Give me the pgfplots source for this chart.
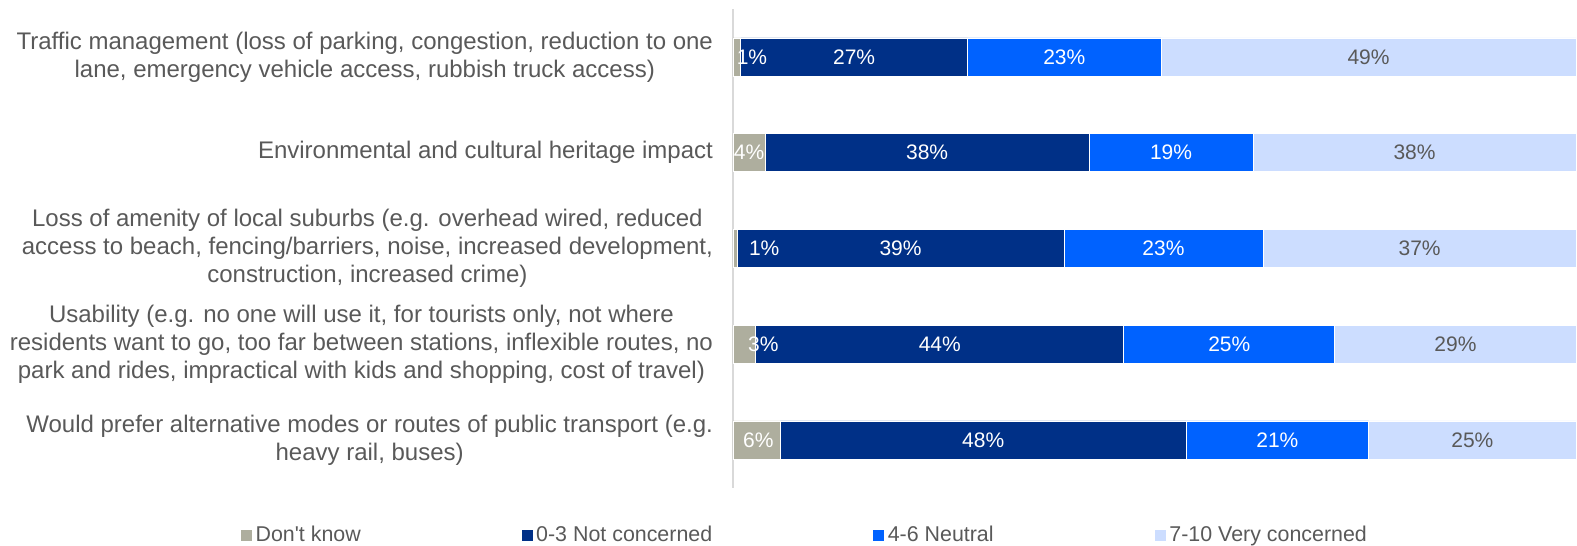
\documentclass[border=0pt]{standalone}
\usepackage{fontspec}
\setmainfont{Liberation Sans}
\usepackage{pgfplots}
\usepackage{pgfplotstable}
\pgfplotsset{compat=1.18}

\definecolor{dkc}{HTML}{AEAE9E}
\definecolor{ncc}{HTML}{003087}
\definecolor{nec}{HTML}{0062FF}
\definecolor{vcc}{HTML}{CCDDFF}
\definecolor{txt}{HTML}{595959}
\definecolor{axc}{HTML}{D9D9D9}

% row, segment width (%), printed label, label centre (dk only)
\pgfplotstableread{
row x lab lx
0 0.9 1 2.25
1 3.8 4 1.9
2 0.5 1 3.7
3 2.7 3 3.6
4 5.6 6 3.0
}\dk
\pgfplotstableread{
row x lab
0 26.9 27
1 38.4 38
2 38.7 39
3 43.6 44
4 48.1 48
}\nc
\pgfplotstableread{
row x lab
0 22.9 23
1 19.4 19
2 23.6 23
3 25.0 25
4 21.6 21
}\ne
\pgfplotstableread{
row x lab
0 49.2 49
1 38.3 38
2 37.1 37
3 28.6 29
4 24.6 25
}\vc

\begin{document}
\begin{tikzpicture}[font=\fontsize{10.5}{14}\selectfont]
\useasboundingbox (-366.5pt,-29pt) rectangle (422pt,243.9pt);
\begin{axis}[
  scale only axis,
  width=422pt, height=239.4pt,
  xbar stacked, bar width=19pt,
  xmin=0, xmax=100,
  ymin=-0.5, ymax=4.5,
  y dir=reverse,
  clip=false,
  axis x line=none,
  axis y line*=left,
  y axis line style={draw=axc, line width=0.6pt},
  major tick length=0pt,
  ytick={0,...,4},
  yticklabels={
    {Traffic management (loss of parking, congestion, reduction to one\\lane, emergency vehicle access, rubbish truck access)},
    {Environmental and cultural heritage impact},
    {Loss of amenity of local suburbs (e.g. overhead wired, reduced\\access to beach, fencing/barriers, noise, increased development,\\construction, increased crime)},
    {Usability (e.g. no one will use it, for tourists only, not where\\residents want to go, too far between stations, inflexible routes, no\\park and rides, impractical with kids and shopping, cost of travel)},
    {Would prefer alternative modes or routes of public transport (e.g.\\heavy rail, buses)}
  },
  yticklabel style={align=center, text=txt, xshift=-6.5pt,
    font=\fontsize{12}{14}\selectfont},
  point meta=explicit,
  /pgf/number format/assume math mode=true,
  nodes near coords={\pgfmathprintnumber{\pgfplotspointmeta}\%},
  every node near coord/.append style={anchor=center, xshift=\hw pt},
  visualization depends on={0 \as \hw},
  legend style={draw=none, fill=none, inner sep=0pt, outer sep=0pt,
    at={(-0.5841,-0.0982)}, anchor=west, legend columns=4,
    nodes={inner xsep=1.5pt, text=txt}, font=\fontsize{10.7}{13}\selectfont},
  legend cell align=left,
  legend image code/.code={\fill[#1] (0pt,-3pt) rectangle (6pt,3pt);},
]
\addplot[fill=dkc, draw=white, line width=0.3pt,
  visualization depends on={4.22*(\thisrow{lx}-0.5*\thisrow{x}) \as \hw},
  nodes near coords style={text=white}]
  table[x=x, y=row, meta=lab]{\dk};
\addlegendentry{\makebox[131pt][l]{Don\textquotesingle t know}}
\addplot[fill=ncc, draw=white, line width=0.3pt,
  nodes near coords style={text=white}]
  table[x=x, y=row, meta=lab]{\nc};
\addlegendentry{\makebox[166.5pt][l]{0-3 Not concerned}}
\addplot[fill=nec, draw=white, line width=0.3pt,
  nodes near coords style={text=white}]
  table[x=x, y=row, meta=lab]{\ne};
\addlegendentry{\makebox[131.5pt][l]{4-6 Neutral}}
\addplot[fill=vcc, draw=white, line width=0.3pt,
  nodes near coords style={text=txt}]
  table[x=x, y=row, meta=lab]{\vc};
\addlegendentry{7-10 Very concerned}
\end{axis}
\end{tikzpicture}
\end{document}
